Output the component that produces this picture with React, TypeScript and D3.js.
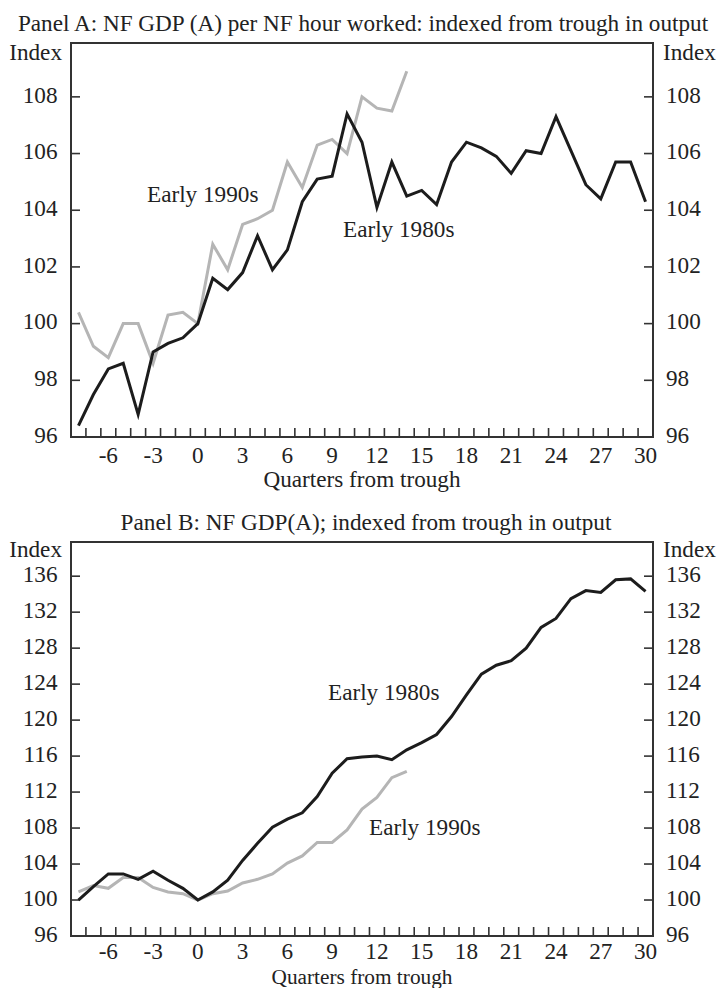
import React, { useRef, useEffect } from 'react';
import * as d3 from 'd3';

// quarters from trough in output
const quarters = [-8, -7, -6, -5, -4, -3, -2, -1, 0, 1, 2, 3, 4, 5, 6, 7, 8, 9, 10, 11, 12, 13, 14, 15, 16, 17, 18, 19, 20, 21, 22, 23, 24, 25, 26, 27, 28, 29, 30];
const xTickLabels = [-6, -3, 0, 3, 6, 9, 12, 15, 18, 21, 24, 27, 30];

// Panel A: NF GDP (A) per NF hour worked
const productivity1980s = [96.4, 97.5, 98.4, 98.6, 96.8, 99.0, 99.3, 99.5, 100.0, 101.6, 101.2, 101.8, 103.1, 101.9, 102.6, 104.3, 105.1, 105.2, 107.4, 106.4, 104.1, 105.7, 104.5, 104.7, 104.2, 105.7, 106.4, 106.2, 105.9, 105.3, 106.1, 106.0, 107.3, 106.1, 104.9, 104.4, 105.7, 105.7, 104.3];
const productivity1990s = [100.4, 99.2, 98.8, 100.0, 100.0, 98.6, 100.3, 100.4, 100.0, 102.8, 101.9, 103.5, 103.7, 104.0, 105.7, 104.8, 106.3, 106.5, 106.0, 108.0, 107.6, 107.5, 108.9];
const productivityTicks = [98, 100, 102, 104, 106, 108];

// Panel B: NF GDP(A)
const output1980s = [100.0, 101.5, 102.9, 102.9, 102.3, 103.2, 102.2, 101.3, 100.0, 100.9, 102.2, 104.4, 106.3, 108.1, 109.0, 109.7, 111.5, 114.1, 115.7, 115.9, 116.0, 115.6, 116.7, 117.5, 118.4, 120.4, 122.8, 125.1, 126.1, 126.6, 128.0, 130.3, 131.3, 133.5, 134.4, 134.2, 135.6, 135.7, 134.3];
const output1990s = [100.9, 101.6, 101.3, 102.5, 102.5, 101.4, 100.9, 100.7, 100.0, 100.7, 101.0, 101.9, 102.3, 102.9, 104.1, 104.9, 106.4, 106.4, 107.8, 110.1, 111.4, 113.6, 114.3];
const outputTicks = [100, 104, 108, 112, 116, 120, 124, 128, 132, 136];

const FONT = '"Liberation Serif", "Times New Roman", serif';
const FS = 23.2;
const TEXT = '#222';
const AXIS = '#333';
const DARK = '#1c1c1c';
const LIGHT = '#b5b5b5';

const LEFT = 71;
const RIGHT = 653;

const drawPanel = (svg, p) => {
  const x = d3.scaleBand().domain(quarters).range([LEFT, RIGHT]).paddingInner(0).paddingOuter(0);
  const y = d3.scaleLinear().domain(p.yDomain).range([p.bottom, p.top]);
  const cx = q => x(q) + x.bandwidth() / 2;

  const g = svg.append('g').attr('font-family', FONT).attr('font-size', FS).attr('fill', TEXT);

  // title
  g.append('text').attr('x', p.titleX).attr('y', p.titleY).attr('text-anchor', 'middle').text(p.title);

  // Index labels
  g.append('text').attr('x', LEFT - 9).attr('y', p.indexY).attr('text-anchor', 'end').text('Index');
  g.append('text').attr('x', RIGHT + 10).attr('y', p.indexY).text('Index');

  // y tick labels, both sides
  const yLabels = [p.yDomain[0], ...p.yTicks];
  yLabels.forEach(v => {
    g.append('text').attr('x', LEFT - 13.5).attr('y', y(v)).attr('dy', '0.25em').attr('text-anchor', 'end').text(v);
    g.append('text').attr('x', RIGHT + 13).attr('y', y(v)).attr('dy', '0.25em').text(v);
  });

  // y ticks, pointing inward
  p.yTicks.forEach(v => {
    g.append('line').attr('x1', LEFT).attr('x2', LEFT + 9).attr('y1', y(v)).attr('y2', y(v))
      .attr('stroke', AXIS).attr('stroke-width', 1.6);
    g.append('line').attr('x1', RIGHT - 9).attr('x2', RIGHT).attr('y1', y(v)).attr('y2', y(v))
      .attr('stroke', AXIS).attr('stroke-width', 1.6);
  });

  // x ticks at category boundaries
  quarters.slice(1).forEach(q => {
    g.append('line').attr('x1', x(q)).attr('x2', x(q)).attr('y1', p.bottom).attr('y2', p.bottom - 9)
      .attr('stroke', AXIS).attr('stroke-width', 1.6);
  });

  // x tick labels
  xTickLabels.forEach(q => {
    g.append('text').attr('x', cx(q)).attr('y', p.bottom + p.tickLabelGap).attr('text-anchor', 'middle').text(q);
  });

  g.append('text').attr('x', (LEFT + RIGHT) / 2).attr('y', p.bottom + p.axisTitleGap).attr('text-anchor', 'middle')
    .attr('font-size', p.axisTitleSize)
    .text('Quarters from trough');

  // frame
  g.append('rect').attr('x', LEFT).attr('y', p.top).attr('width', RIGHT - LEFT).attr('height', p.bottom - p.top)
    .attr('fill', 'none').attr('stroke', AXIS).attr('stroke-width', 2);

  const line = d3.line().x(d => cx(d[0])).y(d => y(d[1]));

  const drawSeries = (values, color) => {
    g.append('path')
      .datum(values.map((v, i) => [quarters[i], v]))
      .attr('d', line)
      .attr('fill', 'none')
      .attr('stroke', color)
      .attr('stroke-width', 3)
      .attr('stroke-linejoin', 'miter');
  };

  drawSeries(p.series1990s, LIGHT);
  drawSeries(p.series1980s, DARK);

  p.labels.forEach(l => {
    g.append('text').attr('x', l.x).attr('y', l.y).text(l.text);
  });
};

const App = () => {
  const svgRef = useRef();

  useEffect(() => {
    const svg = d3.select(svgRef.current);
    svg.selectAll('*').remove();

    drawPanel(svg, {
      title: 'Panel A: NF GDP (A) per NF hour worked: indexed from trough in output',
      titleX: 363,
      titleY: 31,
      indexY: 59.5,
      top: 43,
      bottom: 437,
      tickLabelGap: 26,
      axisTitleGap: 49.5,
      axisTitleSize: FS,
      yDomain: [96, 109.9],
      yTicks: productivityTicks,
      series1980s: productivity1980s,
      series1990s: productivity1990s,
      labels: [
        { text: 'Early 1990s', x: 147, y: 202 },
        { text: 'Early 1980s', x: 343, y: 237 },
      ],
    });

    drawPanel(svg, {
      title: 'Panel B: NF GDP(A); indexed from trough in output',
      titleX: 366,
      titleY: 529.5,
      indexY: 557,
      top: 542,
      bottom: 936,
      tickLabelGap: 23,
      axisTitleGap: 47.5,
      axisTitleSize: 21.3,
      yDomain: [96, 139.8],
      yTicks: outputTicks,
      series1980s: output1980s,
      series1990s: output1990s,
      labels: [
        { text: 'Early 1980s', x: 328, y: 700 },
        { text: 'Early 1990s', x: 369, y: 835 },
      ],
    });
  }, []);

  return (
    <svg ref={svgRef} width={718} height={988}
      style={{ position: 'absolute', left: 0, top: 0, background: '#fff' }} />
  );
};

export default App;
